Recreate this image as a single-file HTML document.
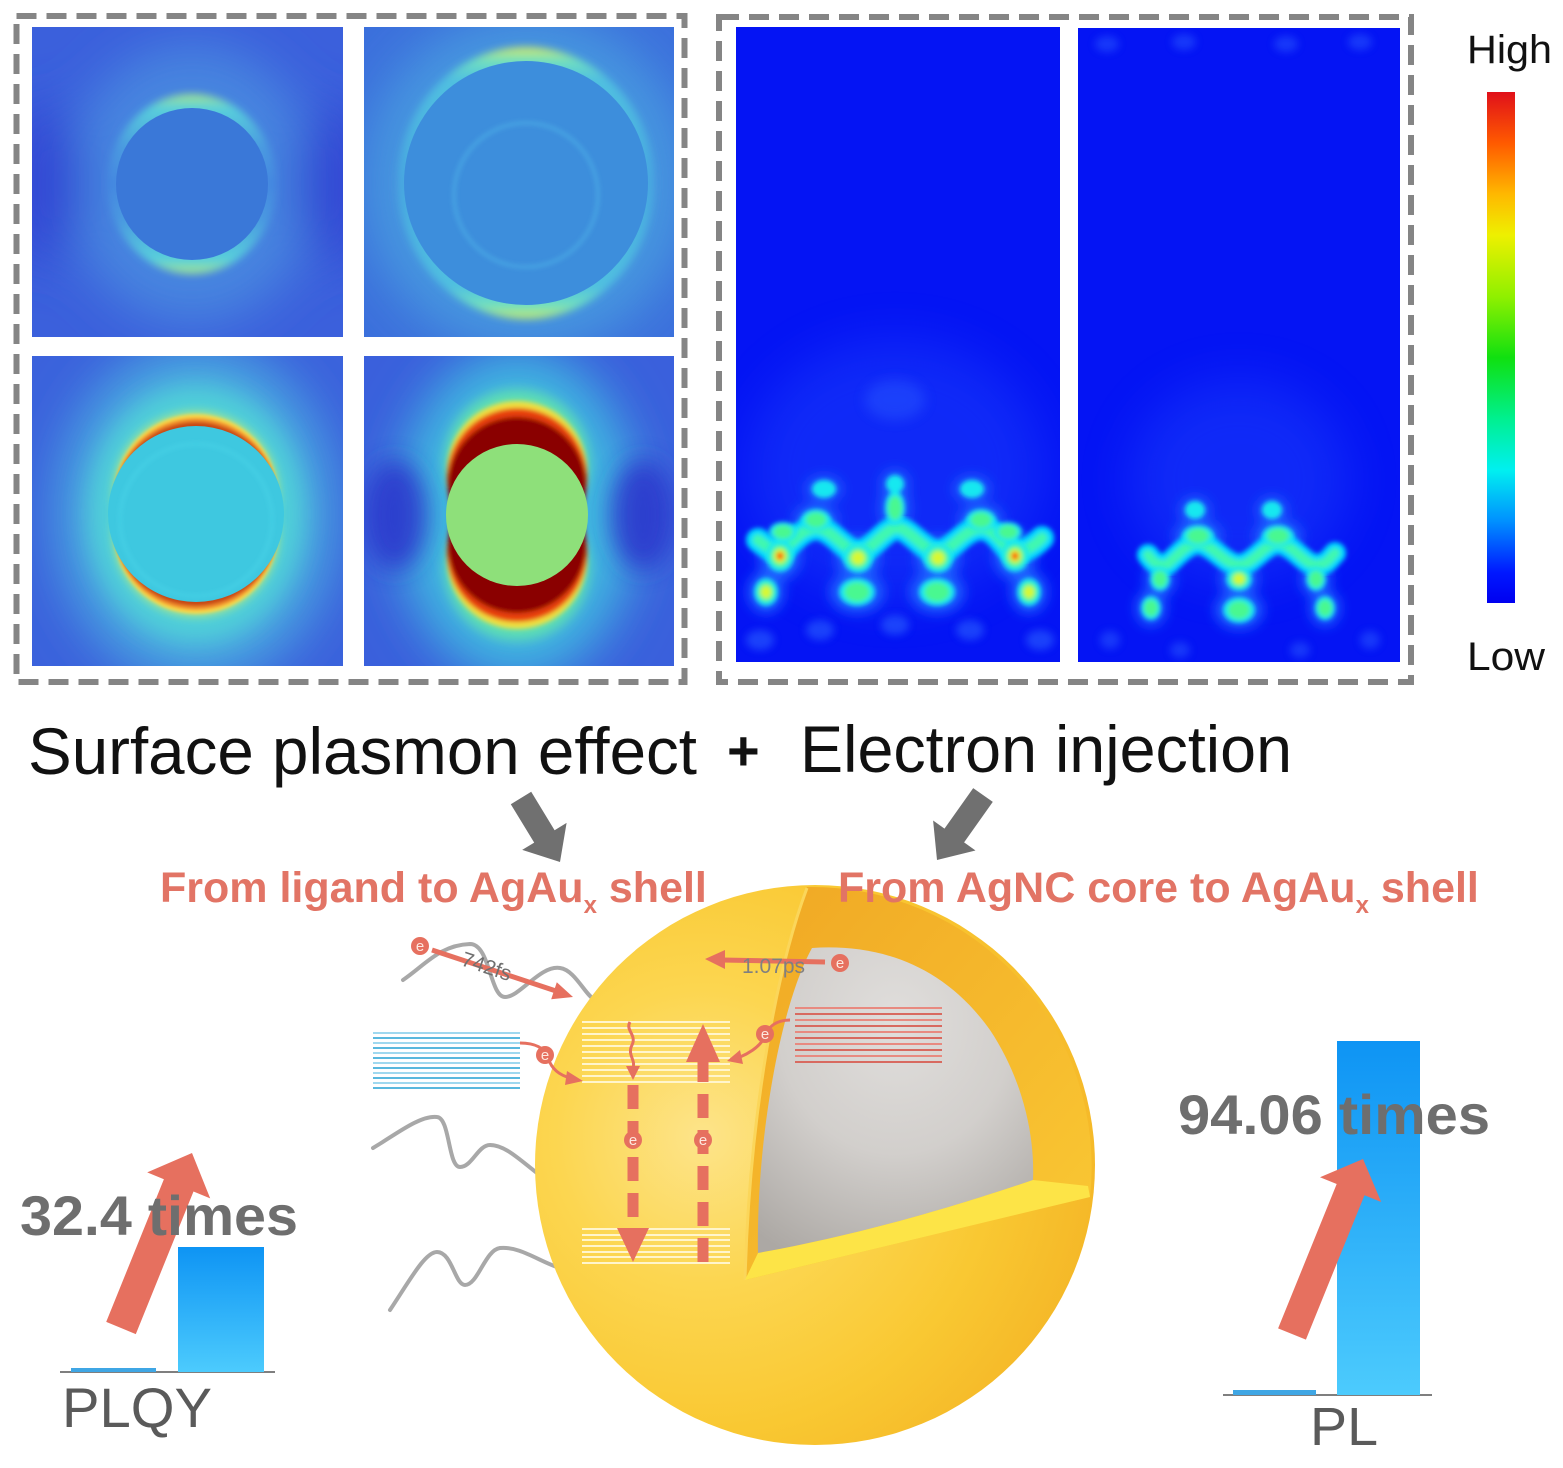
<!DOCTYPE html>
<html><head><meta charset="utf-8"><style>html,body{margin:0;padding:0;background:#fff}svg{display:block}</style></head>
<body>
<svg width="1563" height="1468" viewBox="0 0 1563 1468" xmlns="http://www.w3.org/2000/svg" font-family="'Liberation Sans', Arial, sans-serif">
<defs>
<clipPath id="cTL"><rect x="32" y="27" width="311" height="310"/></clipPath>
<clipPath id="cTR"><rect x="364" y="27" width="310" height="310"/></clipPath>
<clipPath id="cBL"><rect x="32" y="356" width="311" height="310"/></clipPath>
<clipPath id="cBR"><rect x="364" y="356" width="310" height="310"/></clipPath>
<clipPath id="cA"><rect x="736" y="27" width="324" height="635"/></clipPath>
<clipPath id="cB"><rect x="1078" y="28" width="322" height="634"/></clipPath>
<filter id="f1" x="-50%" y="-50%" width="200%" height="200%"><feGaussianBlur stdDeviation="1.5"/></filter>
<filter id="f2" x="-50%" y="-50%" width="200%" height="200%"><feGaussianBlur stdDeviation="2.5"/></filter>
<filter id="f4" x="-50%" y="-50%" width="200%" height="200%"><feGaussianBlur stdDeviation="4"/></filter>
<filter id="f6" x="-50%" y="-50%" width="200%" height="200%"><feGaussianBlur stdDeviation="6"/></filter>
<filter id="f12" x="-50%" y="-50%" width="200%" height="200%"><feGaussianBlur stdDeviation="12"/></filter>
<filter id="f25" x="-50%" y="-50%" width="200%" height="200%"><feGaussianBlur stdDeviation="25"/></filter>
<linearGradient id="ringTL" x1="0" y1="0" x2="0" y2="1">
<stop offset="0" stop-color="#a8e48a"/><stop offset=".08" stop-color="#58d0dc"/><stop offset=".3" stop-color="#4a9ae0"/><stop offset=".5" stop-color="#4488e0"/><stop offset=".7" stop-color="#4a9ae0"/><stop offset=".92" stop-color="#58d0dc"/><stop offset="1" stop-color="#a8e48a"/>
</linearGradient>
<linearGradient id="ringTR" x1="0" y1="0" x2="0" y2="1">
<stop offset="0" stop-color="#d8e860"/><stop offset=".05" stop-color="#70e0c0"/><stop offset=".12" stop-color="#50c0e0"/><stop offset=".5" stop-color="#48a8e0"/><stop offset=".88" stop-color="#50c0e0"/><stop offset=".95" stop-color="#70e0c0"/><stop offset="1" stop-color="#c8e868"/>
</linearGradient>
<linearGradient id="cbar" x1="0" y1="0" x2="0" y2="1">
<stop offset="0" stop-color="#e0101a"/><stop offset=".1" stop-color="#ff5a00"/><stop offset=".2" stop-color="#ffb800"/><stop offset=".28" stop-color="#eef000"/><stop offset=".4" stop-color="#90f000"/><stop offset=".52" stop-color="#10e010"/><stop offset=".64" stop-color="#00f090"/><stop offset=".74" stop-color="#00f0f0"/><stop offset=".84" stop-color="#0090ff"/><stop offset=".94" stop-color="#0018ff"/><stop offset="1" stop-color="#0000f0"/>
</linearGradient>
<radialGradient id="sph" cx=".3" cy=".45" r=".75">
<stop offset="0" stop-color="#fde48a"/><stop offset=".35" stop-color="#fcd650"/><stop offset=".7" stop-color="#f9c832"/><stop offset="1" stop-color="#f4b526"/>
</radialGradient>
<linearGradient id="shell" x1="0" y1="0" x2="1" y2="1">
<stop offset="0" stop-color="#f0a824"/><stop offset=".5" stop-color="#f5b82c"/><stop offset="1" stop-color="#fac934"/>
</linearGradient>
<radialGradient id="core" cx=".5" cy=".25" r=".85">
<stop offset="0" stop-color="#e0dedc"/><stop offset=".5" stop-color="#d2cfcc"/><stop offset="1" stop-color="#aca8a4"/>
</radialGradient>
<linearGradient id="bar" x1="0" y1="0" x2="0" y2="1">
<stop offset="0" stop-color="#0e94f4"/><stop offset="1" stop-color="#4ccbfd"/>
</linearGradient>
</defs>

<rect width="1563" height="1468" fill="#fff"/>

<!-- ===== Top-left panels ===== -->
<g clip-path="url(#cTL)">
<rect x="32" y="27" width="311" height="310" fill="#3b60dc"/>
<g filter="url(#f25)">
<ellipse cx="192" cy="184" rx="125" ry="140" fill="#4a8ee0" opacity=".8"/>
<ellipse cx="45" cy="184" rx="40" ry="80" fill="#3347d4"/>
<ellipse cx="335" cy="184" rx="40" ry="80" fill="#3347d4"/>
</g>
<ellipse cx="192" cy="184" rx="84" ry="90" fill="url(#ringTL)" filter="url(#f4)"/>
<circle cx="192" cy="184" r="76" fill="#3a78d8"/>
</g>

<g clip-path="url(#cTR)">
<rect x="364" y="27" width="310" height="310" fill="#3c70dc"/>
<ellipse cx="526" cy="183" rx="165" ry="170" fill="#4aa0e0" opacity=".8" filter="url(#f25)"/>
<ellipse cx="526" cy="183" rx="128" ry="136" fill="url(#ringTR)" filter="url(#f4)"/>
<circle cx="526" cy="183" r="122" fill="#3d8edc"/>
<circle cx="526" cy="195" r="72" fill="none" stroke="#48a8e4" stroke-width="3" filter="url(#f2)"/>
</g>

<g clip-path="url(#cBL)">
<rect x="32" y="356" width="311" height="310" fill="#3b62dc"/>
<ellipse cx="196" cy="514" rx="140" ry="170" fill="#48a8e0" filter="url(#f25)"/>
<ellipse cx="196" cy="514" rx="108" ry="128" fill="#50d0d8" filter="url(#f12)"/>
<g filter="url(#f4)">
<circle cx="196" cy="494" r="84" fill="#90e0a0"/>
<circle cx="196" cy="534" r="84" fill="#90e0a0"/>
</g>
<g filter="url(#f1)">
<circle cx="196" cy="496" r="82" fill="#f8d848"/>
<circle cx="196" cy="532" r="82" fill="#f8d848"/>
<circle cx="196" cy="500" r="82" fill="#f08a2a"/>
<circle cx="196" cy="528" r="82" fill="#f08a2a"/>
<circle cx="196" cy="504" r="82" fill="#c84a18"/>
<circle cx="196" cy="524" r="82" fill="#c84a18"/>
</g>
<circle cx="196" cy="514" r="88" fill="#3ec8e0"/>
<circle cx="196" cy="520" r="76" fill="none" stroke="#48d4e8" stroke-width="2" filter="url(#f2)"/>
</g>

<g clip-path="url(#cBR)">
<rect x="364" y="356" width="310" height="310" fill="#3a60dc"/>
<ellipse cx="517" cy="515" rx="120" ry="165" fill="#40b8e0" filter="url(#f25)"/>
<ellipse cx="395" cy="515" rx="32" ry="55" fill="#2c34cc" opacity=".85" filter="url(#f12)"/>
<ellipse cx="643" cy="515" rx="32" ry="55" fill="#2c34cc" opacity=".85" filter="url(#f12)"/>
<g filter="url(#f6)">
<circle cx="517" cy="462" r="72" fill="#60e0b0"/>
<circle cx="517" cy="568" r="72" fill="#60e0b0"/>
</g>
<g filter="url(#f2)">
<circle cx="517" cy="471" r="70" fill="#f0e040"/>
<circle cx="517" cy="559" r="70" fill="#f0e040"/>
<circle cx="517" cy="478" r="70" fill="#e84010"/>
<circle cx="517" cy="552" r="70" fill="#e84010"/>
<circle cx="517" cy="486" r="69" fill="#8a0000"/>
<circle cx="517" cy="544" r="69" fill="#8a0000"/>
</g>
<circle cx="517" cy="515" r="71" fill="#8ee07a"/>
</g>

<!-- ===== Right panels ===== -->
<g clip-path="url(#cA)">
<rect x="736" y="27" width="324" height="635" fill="#0414f4"/>
<ellipse cx="895" cy="470" rx="150" ry="130" fill="#2a5cff" opacity=".3" filter="url(#f25)"/>
<ellipse cx="895" cy="400" rx="30" ry="20" fill="#2a5cff" opacity=".45" filter="url(#f6)"/>
<g fill="#2a60ff" opacity=".6" filter="url(#f4)">
<ellipse cx="760" cy="640" rx="14" ry="10"/><ellipse cx="820" cy="630" rx="14" ry="10"/><ellipse cx="895" cy="625" rx="14" ry="10"/><ellipse cx="970" cy="630" rx="14" ry="10"/><ellipse cx="1040" cy="640" rx="14" ry="10"/>
</g>
<g fill="#1a60ff" filter="url(#f6)">
<ellipse cx="780" cy="556" rx="21" ry="24"/><ellipse cx="858" cy="558" rx="22" ry="22"/><ellipse cx="938" cy="558" rx="22" ry="22"/><ellipse cx="1015" cy="556" rx="21" ry="24"/>
<ellipse cx="766" cy="592" rx="18" ry="21"/><ellipse cx="857" cy="592" rx="27" ry="21"/><ellipse cx="937" cy="592" rx="27" ry="21"/><ellipse cx="1029" cy="592" rx="18" ry="21"/>
<ellipse cx="816" cy="520" rx="22" ry="16"/><ellipse cx="981" cy="520" rx="22" ry="16"/><ellipse cx="895" cy="508" rx="15" ry="25"/>
<ellipse cx="824" cy="489" rx="18" ry="13"/><ellipse cx="895" cy="484" rx="14" ry="14"/><ellipse cx="972" cy="489" rx="18" ry="13"/>
</g>
<g fill="none" stroke-linecap="round" filter="url(#f2)">
<path d="M758,540 C768,548 775,552 780,552 S800,528 816,528 S845,552 858,552 S885,528 897,528 S925,552 938,552 S965,528 981,528 S1005,552 1015,552 S1035,545 1042,538" stroke="#00d8ff" stroke-width="24"/>
<path d="M758,540 C768,548 775,552 780,552 S800,528 816,528 S845,552 858,552 S885,528 897,528 S925,552 938,552 S965,528 981,528 S1005,552 1015,552 S1035,545 1042,538" stroke="#40f8b0" stroke-width="11"/>
</g>
<g filter="url(#f2)">
<g fill="#14e8f0">
<ellipse cx="780" cy="556" rx="14" ry="16"/><ellipse cx="858" cy="558" rx="15" ry="15"/><ellipse cx="938" cy="558" rx="15" ry="15"/><ellipse cx="1015" cy="556" rx="14" ry="16"/>
<ellipse cx="766" cy="592" rx="12" ry="14"/><ellipse cx="857" cy="592" rx="18" ry="14"/><ellipse cx="937" cy="592" rx="18" ry="14"/><ellipse cx="1029" cy="592" rx="12" ry="14"/>
<ellipse cx="816" cy="520" rx="15" ry="11"/><ellipse cx="981" cy="520" rx="15" ry="11"/><ellipse cx="895" cy="508" rx="10" ry="17"/>
<ellipse cx="824" cy="489" rx="12" ry="9"/><ellipse cx="895" cy="484" rx="9" ry="9"/><ellipse cx="972" cy="489" rx="12" ry="9"/>
<ellipse cx="783" cy="532" rx="14" ry="10"/><ellipse cx="1008" cy="532" rx="14" ry="10"/>
</g>
<g fill="#48f890">
<ellipse cx="780" cy="556" rx="9.8" ry="11.2"/><ellipse cx="858" cy="558" rx="10.5" ry="10.5"/><ellipse cx="938" cy="558" rx="10.5" ry="10.5"/><ellipse cx="1015" cy="556" rx="9.8" ry="11.2"/>
<ellipse cx="766" cy="592" rx="8.4" ry="9.8"/><ellipse cx="857" cy="592" rx="12.6" ry="9.8"/><ellipse cx="937" cy="592" rx="12.6" ry="9.8"/><ellipse cx="1029" cy="592" rx="8.4" ry="9.8"/>
<ellipse cx="816" cy="520" rx="10.5" ry="7.7"/><ellipse cx="981" cy="520" rx="10.5" ry="7.7"/><ellipse cx="895" cy="508" rx="7" ry="12"/>
<ellipse cx="783" cy="532" rx="9.8" ry="7"/><ellipse cx="1008" cy="532" rx="9.8" ry="7"/>
</g>
<g fill="#d8f830">
<ellipse cx="780" cy="556" rx="6.3" ry="7.2"/><ellipse cx="858" cy="558" rx="6.8" ry="6.8"/><ellipse cx="938" cy="558" rx="6.8" ry="6.8"/><ellipse cx="1015" cy="556" rx="6.3" ry="7.2"/>
<ellipse cx="766" cy="592" rx="5.4" ry="6.3"/><ellipse cx="1029" cy="592" rx="5.4" ry="6.3"/>
</g>
<g fill="#ff2800">
<ellipse cx="780" cy="556" rx="3.4" ry="3.8"/><ellipse cx="1015" cy="556" rx="3.4" ry="3.8"/>
</g>
</g>
</g>

<g clip-path="url(#cB)">
<rect x="1078" y="28" width="322" height="634" fill="#0414f4"/>
<ellipse cx="1239" cy="480" rx="110" ry="100" fill="#2a5cff" opacity=".3" filter="url(#f25)"/>
<g fill="#2a5cff" opacity=".5" filter="url(#f4)">
<ellipse cx="1107" cy="44" rx="12" ry="8"/><ellipse cx="1184" cy="42" rx="12" ry="8"/><ellipse cx="1286" cy="44" rx="12" ry="8"/><ellipse cx="1360" cy="42" rx="12" ry="8"/>
<ellipse cx="1110" cy="640" rx="10" ry="9"/><ellipse cx="1180" cy="650" rx="10" ry="8"/><ellipse cx="1300" cy="650" rx="10" ry="8"/><ellipse cx="1370" cy="640" rx="10" ry="9"/>
</g>
<g fill="#1a60ff" filter="url(#f6)">
<ellipse cx="1198" cy="536" rx="24" ry="16"/><ellipse cx="1278" cy="536" rx="24" ry="16"/>
<ellipse cx="1160" cy="579" rx="15" ry="18"/><ellipse cx="1239" cy="579" rx="19" ry="18"/><ellipse cx="1316" cy="579" rx="15" ry="18"/>
<ellipse cx="1151" cy="608" rx="15" ry="18"/><ellipse cx="1239" cy="610" rx="24" ry="19"/><ellipse cx="1325" cy="608" rx="15" ry="18"/>
<ellipse cx="1195" cy="510" rx="15" ry="13"/><ellipse cx="1272" cy="510" rx="15" ry="13"/>
</g>
<g fill="none" stroke-linecap="round" filter="url(#f2)">
<path d="M1148,555 C1155,565 1160,565 1165,565 S1185,543 1198,543 S1225,565 1239,565 S1265,543 1278,543 S1305,565 1316,565 S1330,558 1335,553" stroke="#00d8ff" stroke-width="22"/>
<path d="M1148,555 C1155,565 1160,565 1165,565 S1185,543 1198,543 S1225,565 1239,565 S1265,543 1278,543 S1305,565 1316,565 S1330,558 1335,553" stroke="#40f8b0" stroke-width="10"/>
</g>
<g filter="url(#f2)">
<g fill="#14e8f0">
<ellipse cx="1198" cy="536" rx="16" ry="11"/><ellipse cx="1278" cy="536" rx="16" ry="11"/>
<ellipse cx="1160" cy="579" rx="10" ry="12"/><ellipse cx="1239" cy="579" rx="13" ry="12"/><ellipse cx="1316" cy="579" rx="10" ry="12"/>
<ellipse cx="1151" cy="608" rx="10" ry="12"/><ellipse cx="1239" cy="610" rx="16" ry="13"/><ellipse cx="1325" cy="608" rx="10" ry="12"/>
<ellipse cx="1195" cy="510" rx="10" ry="9"/><ellipse cx="1272" cy="510" rx="10" ry="9"/>
</g>
<g fill="#48f890">
<ellipse cx="1198" cy="536" rx="11" ry="7.7"/><ellipse cx="1278" cy="536" rx="11" ry="7.7"/>
<ellipse cx="1160" cy="579" rx="7" ry="8.4"/><ellipse cx="1239" cy="579" rx="9" ry="8.4"/><ellipse cx="1316" cy="579" rx="7" ry="8.4"/>
<ellipse cx="1151" cy="608" rx="7" ry="8.4"/><ellipse cx="1239" cy="610" rx="11" ry="9"/><ellipse cx="1325" cy="608" rx="7" ry="8.4"/>
</g>
<ellipse cx="1239" cy="579" rx="5.8" ry="5.4" fill="#d8f830"/>
</g>
</g>

<!-- dashed frames -->
<rect x="16.5" y="16" width="668" height="666" fill="none" stroke="#858585" stroke-width="6" stroke-dasharray="20 10"/>
<rect x="719" y="17" width="692" height="665" fill="none" stroke="#858585" stroke-width="6" stroke-dasharray="20 10"/>

<!-- colorbar -->
<rect x="1487" y="92" width="28" height="511" fill="url(#cbar)"/>
<text x="1467" y="63" font-size="40" fill="#111" textLength="85" lengthAdjust="spacingAndGlyphs">High</text>
<text x="1467" y="670" font-size="40" fill="#111" textLength="78" lengthAdjust="spacingAndGlyphs">Low</text>

<!-- main title -->
<text x="28" y="774" font-size="66" fill="#111" textLength="669" lengthAdjust="spacingAndGlyphs">Surface plasmon effect</text>
<text x="727" y="770" font-size="56" font-weight="bold" fill="#111">+</text>
<text x="800" y="772" font-size="66" fill="#111" textLength="492" lengthAdjust="spacingAndGlyphs">Electron injection</text>

<!-- gray arrows -->
<polygon points="510.8,804.2 531.2,791.8 554.6,830.2 566.6,822.9 560,862 522.2,849.9 534.2,842.6" fill="#707070"/>
<polygon points="973.2,788.1 992.8,801.9 964.1,842.4 975.5,850.5 937,860 933.1,820.5 944.5,828.6" fill="#707070"/>

<!-- ligand wavy lines -->
<g fill="none" stroke="#a8a8a8" stroke-width="4" stroke-linecap="round">
<path d="M403,980 C425,965 440,945 470,944 C490,944 490,997 505,997 C520,997 540,965 560,968 C575,970 585,995 595,1000"/>
<path d="M373,1148 C395,1135 420,1115 437,1117 C450,1118 448,1167 460,1167 C472,1167 478,1145 490,1145 C505,1145 520,1160 537,1173"/>
<path d="M390,1310 C410,1280 425,1252 437,1252 C452,1252 455,1285 465,1285 C478,1285 485,1250 500,1248 C520,1246 540,1262 560,1268"/>
</g>

<!-- sphere -->
<circle cx="815" cy="1165" r="280" fill="url(#sph)"/>
<path d="M807,887 C780,960 750,1100 745,1280 L1090,1197 A280,280 0 0,0 807,887 Z" fill="url(#shell)"/>
<path d="M807,888 C780,960 750,1100 745,1280" fill="none" stroke="#fbd65a" stroke-width="3"/>
<path d="M812,948 C872,944 940,960 990,1030 C1020,1075 1035,1130 1033,1180 C960,1205 860,1235 758,1253 C756,1150 778,1010 812,948 Z" fill="url(#core)"/>
<path d="M745,1280 L1090,1197 L1088,1186 L1033,1180 C960,1205 860,1235 758,1253 Z" fill="#fde447"/>

<!-- energy levels -->
<g stroke-width="2">
<g stroke="#9fd8ef">
<line x1="373" y1="1033" x2="520" y2="1033"/><line x1="373" y1="1043" x2="520" y2="1043"/><line x1="373" y1="1053" x2="520" y2="1053"/><line x1="373" y1="1063" x2="520" y2="1063"/><line x1="373" y1="1073" x2="520" y2="1073"/><line x1="373" y1="1083" x2="520" y2="1083"/>
</g>
<g stroke="#5ab8de">
<line x1="373" y1="1038" x2="520" y2="1038"/><line x1="373" y1="1048" x2="520" y2="1048"/><line x1="373" y1="1058" x2="520" y2="1058"/><line x1="373" y1="1068" x2="520" y2="1068"/><line x1="373" y1="1078" x2="520" y2="1078"/><line x1="373" y1="1088" x2="520" y2="1088"/>
</g>
<g stroke="#e88a80">
<line x1="795" y1="1008" x2="942" y2="1008"/><line x1="795" y1="1020" x2="942" y2="1020"/><line x1="795" y1="1032" x2="942" y2="1032"/><line x1="795" y1="1044" x2="942" y2="1044"/><line x1="795" y1="1056" x2="942" y2="1056"/>
</g>
<g stroke="#d86a60">
<line x1="795" y1="1014" x2="942" y2="1014"/><line x1="795" y1="1026" x2="942" y2="1026"/><line x1="795" y1="1038" x2="942" y2="1038"/><line x1="795" y1="1050" x2="942" y2="1050"/><line x1="795" y1="1062" x2="942" y2="1062"/>
</g>
<g stroke="#fff5cc">
<line x1="582" y1="1022" x2="730" y2="1022"/><line x1="582" y1="1028" x2="730" y2="1028"/><line x1="582" y1="1034" x2="730" y2="1034"/><line x1="582" y1="1040" x2="730" y2="1040"/><line x1="582" y1="1046" x2="730" y2="1046"/><line x1="582" y1="1052" x2="730" y2="1052"/><line x1="582" y1="1058" x2="730" y2="1058"/><line x1="582" y1="1064" x2="730" y2="1064"/><line x1="582" y1="1070" x2="730" y2="1070"/><line x1="582" y1="1076" x2="730" y2="1076"/><line x1="582" y1="1082" x2="730" y2="1082"/>
<line x1="582" y1="1229" x2="730" y2="1229"/><line x1="582" y1="1235" x2="730" y2="1235"/><line x1="582" y1="1240" x2="730" y2="1240"/><line x1="582" y1="1246" x2="730" y2="1246"/><line x1="582" y1="1252" x2="730" y2="1252"/><line x1="582" y1="1257" x2="730" y2="1257"/><line x1="582" y1="1263" x2="730" y2="1263"/>
</g>
</g>

<!-- red process arrows -->
<g fill="#e6705f" stroke="#e6705f">
<line x1="432" y1="950" x2="556" y2="991" stroke-width="5"/>
<polygon points="573,997 556.8,982.2 551.2,999.2" stroke="none"/>
<line x1="825" y1="962" x2="722" y2="960" stroke-width="5"/>
<polygon points="705,959 725,950 725,969" stroke="none"/>
<path d="M520,1043 C535,1043 545,1048 548,1058 C552,1070 560,1075 570,1078" fill="none" stroke-width="3"/>
<polygon points="583,1081 567,1071 565,1085" stroke="none"/>
<path d="M790,1020 C775,1020 768,1028 765,1036 C760,1048 745,1055 740,1057" fill="none" stroke-width="3"/>
<polygon points="727,1061 740,1050 743,1064" stroke="none"/>
<path d="M630,1022 C625,1030 637,1035 632,1045 C627,1055 636,1060 633,1068" fill="none" stroke-width="3"/>
<polygon points="626,1066 640,1066 633,1080" stroke="none"/>
<line x1="633" y1="1085" x2="633" y2="1230" stroke-width="11" stroke-dasharray="24 12"/>
<polygon points="617,1228 649,1228 633,1262" stroke="none"/>
<line x1="703" y1="1262" x2="703" y2="1062" stroke-width="11" stroke-dasharray="24 12"/>
<polygon points="686,1062 720,1062 703,1024" stroke="none"/>
</g>
<text x="460" y="965" font-size="21" fill="#707070" transform="rotate(18.4 460 965)">742fs</text>
<text x="742" y="973" font-size="21" fill="#808080">1.07ps</text>

<!-- electrons -->
<g fill="#e6705f">
<circle cx="420" cy="946" r="9"/><circle cx="545" cy="1055" r="9"/><circle cx="765" cy="1034" r="9"/><circle cx="840" cy="963" r="9"/><circle cx="633" cy="1140" r="9"/><circle cx="703" cy="1140" r="9"/>
</g>
<g font-size="15" fill="#fde8e0" text-anchor="middle">
<text x="420" y="951">e</text><text x="545" y="1060">e</text><text x="765" y="1039">e</text><text x="840" y="968">e</text><text x="633" y="1145">e</text><text x="703" y="1145">e</text>
</g>

<!-- red subtitles -->
<text x="160" y="902" font-size="43" font-weight="bold" fill="#e27465">From ligand to AgAu<tspan font-size="24" dy="11">x</tspan><tspan dy="-11"> shell</tspan></text>
<text x="838" y="902" font-size="43" font-weight="bold" fill="#e27465">From AgNC core to AgAu<tspan font-size="24" dy="11">x</tspan><tspan dy="-11"> shell</tspan></text>

<!-- PLQY chart -->
<line x1="60" y1="1372" x2="275" y2="1372" stroke="#555" stroke-width="1.5"/>
<rect x="71" y="1368" width="85" height="4" fill="#3fa6e4"/>
<rect x="178" y="1247" width="86" height="125" fill="url(#bar)"/>
<polygon points="106.2,1321.9 163.9,1179.3 147.2,1172.4 192,1153 210.2,1198.4 193.5,1191.5 135.8,1334.1" fill="#e6705f"/>
<text x="20" y="1235" font-size="56" font-weight="bold" fill="#6e6e6e" textLength="278" lengthAdjust="spacingAndGlyphs">32.4 times</text>
<text x="62" y="1427" font-size="56" fill="#5a5a5a" textLength="150" lengthAdjust="spacingAndGlyphs">PLQY</text>

<!-- PL chart -->
<line x1="1223" y1="1395" x2="1432" y2="1395" stroke="#555" stroke-width="1.5"/>
<rect x="1233" y="1390" width="83" height="5" fill="#3fa6e4"/>
<rect x="1337" y="1041" width="83" height="354" fill="url(#bar)"/>
<polygon points="1278.1,1328.4 1336.7,1184 1320,1177.2 1363,1159 1381.2,1202 1364.5,1195.2 1305.9,1339.6" fill="#e6705f"/>
<text x="1178" y="1134" font-size="56" font-weight="bold" fill="#6e6e6e" textLength="312" lengthAdjust="spacingAndGlyphs">94.06 times</text>
<text x="1310" y="1445" font-size="54" fill="#5a5a5a" textLength="68" lengthAdjust="spacingAndGlyphs">PL</text>
</svg>
</body></html>
